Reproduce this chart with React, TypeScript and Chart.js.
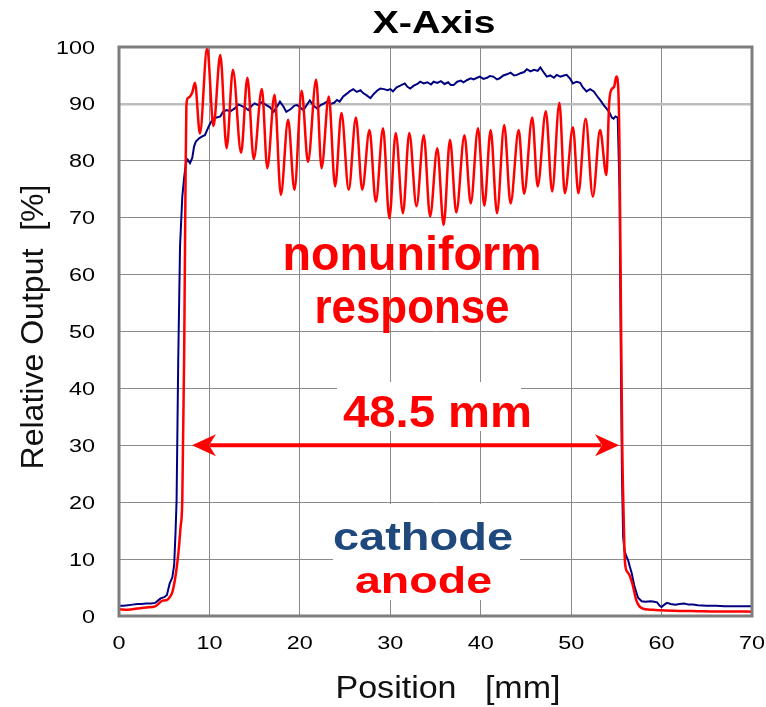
import React, { useEffect, useRef } from "react";
import { Chart, registerables } from "chart.js";

Chart.register(...registerables);

// ---------- data ----------
const xTicks = [0, 10, 20, 30, 40, 50, 60, 70];
const yTicks = [0, 10, 20, 30, 40, 50, 60, 70, 80, 90, 100];

const titleText = "X-Axis";
const xAxisTitle = "Position   [mm]";
const yAxisTitle = "Relative Output  [%]";
const seriesNames = ["anode", "cathode"];

// anode (red)
const redX = [0,1,2,3,4,4.4,4.8,5.3,5.6,5.9,6.2,6.4,6.6,6.8,7.0,7.2,7.35,7.45,7.6,7.85,8.1,8.4,8.95,9.75,10.45,11.2,11.9,12.6,13.5,14.2,14.9,15.8,16.4,17.2,17.9,18.7,19.4,20.2,20.9,21.8,22.4,23.2,23.9,24.6,25.4,26.2,26.9,27.7,28.4,29.2,29.9,30.6,31.4,32.1,32.9,33.7,34.4,35.2,35.9,36.6,37.3,38.2,38.9,39.7,40.4,41.1,41.8,42.6,43.3,44.2,44.8,45.7,46.3,47.2,47.9,48.7,49.3,50.2,50.8,51.6,52.4,53.2,53.9,54.2,54.45,54.75,55.0,55.2,55.35,55.5,55.65,55.8,55.95,56.2,56.5,56.8,57.2,57.6,58.2,59,60,62,64,66,68,70];
const redY = [1.2,1.1,1.3,1.5,1.7,2.2,2.7,2.8,3.3,4.2,6.5,8.7,11.6,15.5,20.5,45,75,89.5,91,91.3,92,93.7,84.8,99.9,86.1,98.6,82.2,96,81.4,94.6,80.3,92.6,78.7,91.6,74,87.2,74.9,92.3,79.8,94.3,78.7,91.3,75.5,88.4,74.9,87.6,74.9,85.4,72.8,85.7,69.9,84.9,70.8,84.9,72,84.5,70.2,82.2,68.7,83.7,70.9,84.5,72.5,85.7,72.1,85.4,70.8,86.3,72.5,85.4,74.2,87.6,75.5,88.7,74.6,90.2,74.3,85.9,74.3,87.4,73.7,85.4,77.5,90,92.5,93,94.8,93,82,55,30,18,9.5,7.8,7.0,5.5,2.8,1.6,1.2,1.1,1.0,0.9,0.85,0.8,0.8,0.75];

// cathode (blue)
const blueX = [0,0.5,1,1.5,2,2.5,3,3.5,4,4.3,4.6,5.0,5.3,5.6,5.9,6.1,6.25,6.37,6.55,6.75,7.0,7.2,7.4,7.6,7.85,8.1,8.3,8.5,8.9,9.2,9.5,9.8,10.0,10.4,10.8,11.2,11.5,11.9,12.3,12.8,13.2,13.6,14.0,14.3,14.7,15.0,15.4,15.8,16.3,16.7,17.1,17.5,17.8,18.2,18.5,19.0,19.4,19.7,20.0,20.4,20.8,21.1,21.5,21.9,22.3,22.7,23.0,23.4,23.8,24.1,24.4,24.8,25.2,25.5,25.9,26.3,26.7,27.0,27.4,27.8,28.2,28.6,28.9,29.3,29.7,30.0,30.3,30.7,31.1,31.6,31.9,32.2,32.6,33.0,33.3,33.7,34.1,34.5,34.8,35.2,35.6,36.0,36.4,36.7,37.0,37.4,37.8,38.1,38.5,38.9,39.2,39.6,39.9,40.3,40.7,41.0,41.4,41.8,42.1,42.5,42.9,43.3,43.7,44.0,44.4,44.8,45.1,45.5,45.9,46.3,46.6,46.9,47.3,47.7,48.1,48.4,48.8,49.2,49.5,49.9,50.2,50.6,51.0,51.3,51.7,52.1,52.5,52.9,53.2,53.6,53.9,54.2,54.5,54.7,54.9,55.15,55.35,55.5,55.62,55.75,55.9,56.1,56.3,56.5,56.7,57.0,57.4,57.8,58.2,58.8,59.2,59.5,59.8,60.0,60.3,60.6,61.0,61.5,62.0,62.5,63.0,63.5,64,65,66,67,68,69,70];
const blueY = [1.8,1.8,1.9,2.0,2.1,2.1,2.2,2.2,2.3,2.7,3.1,3.3,3.7,5.7,6.8,9.0,14.6,20.4,45,65,73.7,77,79.6,80.2,79.6,80.5,82.5,83.4,84.0,84.3,84.5,85.6,86.3,87.4,87.6,87.8,88.6,88.9,88.7,89.2,89.9,89.6,89.3,88.9,89.7,90.1,89.8,90.3,89.8,89.4,88.6,89.6,90.4,89.5,88.6,89.1,89.7,89.8,89.4,88.9,89.9,90.6,89.7,89.2,89.8,90.1,90.4,90.0,90.2,90.7,90.4,91.3,91.8,92.2,92.6,92.1,92.4,91.9,91.5,91.0,91.8,92.4,92.7,92.6,92.4,92.6,92.2,92.9,93.2,93.6,93.0,92.7,93.2,93.5,93.9,93.6,93.8,93.4,93.9,93.7,94.0,93.5,93.8,93.3,93.3,93.9,94.1,93.8,94.2,94.5,94.3,94.6,94.8,94.4,94.6,94.9,94.8,94.3,94.5,95.0,95.2,95.5,95.0,95.1,95.4,95.6,96.1,95.7,96.0,95.8,96.4,95.7,94.8,95.0,94.6,95.1,94.8,95.0,95.1,94.4,93.6,93.9,93.7,92.9,92.2,92.6,92.2,91.3,90.7,89.8,89.2,88.6,87.6,87.4,87.8,87.6,75,45,25,14,11.5,10.5,9.8,8.6,7.5,5.2,3.2,2.6,2.5,2.6,2.5,2.4,1.8,1.6,2.0,2.3,2.1,2.0,2.1,2.2,2.0,2.0,1.9,1.8,1.8,1.7,1.7,1.7,1.7];

// annotation (FWHM arrow) in data units
const arrowFrom = 8.07;
const arrowTo = 55.3;
const arrowAt = 30;
const widthLabel = "48.5 mm";
const noteLines = ["nonuniform", "response"];

const RED = "#ff0000";
const BLUE = "#000080";
const DARKBLUE = "#1f497d";
const FONT = "'Liberation Sans', Arial, Helvetica, sans-serif";

function fitText(
  ctx: CanvasRenderingContext2D,
  text: string,
  cx: number,
  baseline: number,
  font: string,
  color: string,
  width: number
) {
  ctx.save();
  ctx.font = font;
  const w = ctx.measureText(text).width;
  const s = width / w;
  ctx.translate(cx, baseline);
  ctx.scale(s, 1);
  ctx.textAlign = "center";
  ctx.textBaseline = "alphabetic";
  ctx.fillStyle = color;
  ctx.fillText(text, 0, 0);
  ctx.restore();
}

function arrowHead(ctx: CanvasRenderingContext2D, tipX: number, y: number, dir: number) {
  ctx.beginPath();
  ctx.moveTo(tipX, y);
  ctx.lineTo(tipX + dir * 24, y - 11);
  ctx.lineTo(tipX + dir * 17, y);
  ctx.lineTo(tipX + dir * 24, y + 11);
  ctx.closePath();
  ctx.fill();
}

const overlayPlugin = {
  id: "overlay",
  beforeDraw(chart: any) {
    const ctx = chart.ctx as CanvasRenderingContext2D;
    ctx.save();
    ctx.fillStyle = "#ffffff";
    ctx.fillRect(0, 0, chart.width, chart.height);
    ctx.restore();
  },
  afterDatasetsDraw(chart: any) {
    const ctx = chart.ctx as CanvasRenderingContext2D;
    const { left, right, top, bottom } = chart.chartArea;
    const xs = chart.scales.x;
    const ys = chart.scales.y;

    // frame
    ctx.save();
    ctx.strokeStyle = "#7d7d7d";
    ctx.lineWidth = 3;
    ctx.strokeRect(left, top, right - left, bottom - top);
    ctx.restore();

    // tick labels (slightly wide digits)
    ctx.save();
    ctx.fillStyle = "#000";
    ctx.font = `18px ${FONT}`;
    ctx.textBaseline = "alphabetic";
    ys.ticks.forEach((t: any) => {
      const py = ys.getPixelForValue(t.value);
      ctx.save();
      ctx.translate(95, py + 6.5);
      ctx.scale(1.3, 1);
      ctx.textAlign = "right";
      ctx.fillText(String(t.value), 0, 0);
      ctx.restore();
    });
    xs.ticks.forEach((t: any) => {
      const px = xs.getPixelForValue(t.value);
      ctx.save();
      ctx.translate(px, 649);
      ctx.scale(1.3, 1);
      ctx.textAlign = "center";
      ctx.fillText(String(t.value), 0, 0);
      ctx.restore();
    });
    ctx.restore();

    // titles
    fitText(ctx, titleText, 434, 33, `bold 32px ${FONT}`, "#000", 123);
    fitText(ctx, xAxisTitle, 448, 698, `32px ${FONT}`, "#111", 225);
    ctx.save();
    ctx.translate(43, 327);
    ctx.rotate(-Math.PI / 2);
    fitText(ctx, yAxisTitle, 0, 0, `32px ${FONT}`, "#111", 285);
    ctx.restore();

    // nonuniform response
    fitText(ctx, noteLines[0], 412, 270, `bold 48px ${FONT}`, RED, 259);
    fitText(ctx, noteLines[1], 412, 323, `bold 48px ${FONT}`, RED, 195);

    // width arrow
    const ay = ys.getPixelForValue(arrowAt);
    const ax1 = xs.getPixelForValue(arrowFrom);
    const ax2 = xs.getPixelForValue(arrowTo);
    ctx.save();
    ctx.strokeStyle = RED;
    ctx.fillStyle = RED;
    ctx.lineWidth = 4;
    ctx.beginPath();
    ctx.moveTo(ax1 + 18, ay);
    ctx.lineTo(ax2 - 18, ay);
    ctx.stroke();
    arrowHead(ctx, ax1, ay, 1);
    arrowHead(ctx, ax2, ay, -1);
    ctx.restore();

    // 48.5 mm label box
    ctx.save();
    ctx.fillStyle = "#ffffff";
    ctx.fillRect(337, 382, 184, 49);
    ctx.restore();
    fitText(ctx, widthLabel, 437.5, 427, `bold 45px ${FONT}`, RED, 189);

    // legend-like labels
    ctx.save();
    ctx.fillStyle = "#ffffff";
    ctx.fillRect(321, 504, 209, 53);
    ctx.fillRect(333, 557, 187, 43);
    ctx.restore();
    fitText(ctx, seriesNames[1], 423, 550, `bold 39px ${FONT}`, DARKBLUE, 180);
    fitText(ctx, seriesNames[0], 423.5, 593, `bold 37px ${FONT}`, RED, 137);
  },
};

export default function App() {
  const canvasRef = useRef<HTMLCanvasElement | null>(null);

  useEffect(() => {
    document.body.style.margin = "0";
    const canvas = canvasRef.current;
    if (!canvas) return;
    const chart = new Chart(canvas, {
      type: "line",
      data: {
        datasets: [
          {
            label: seriesNames[0],
            data: redX.map((x, i) => ({ x, y: redY[i] })),
            borderColor: RED,
            backgroundColor: RED,
            borderWidth: 2.5,
            pointRadius: 0,
            cubicInterpolationMode: "monotone",
            fill: false,
          },
          {
            label: seriesNames[1],
            data: blueX.map((x, i) => ({ x, y: blueY[i] })),
            borderColor: BLUE,
            backgroundColor: BLUE,
            borderWidth: 2,
            pointRadius: 0,
            tension: 0,
            fill: false,
          },
        ],
      },
      options: {
        responsive: false,
        animation: false,
        events: [],
        layout: { padding: { top: 47, right: 14, bottom: 0, left: 0 } },
        plugins: {
          legend: { display: false },
          title: { display: false },
          tooltip: { enabled: false },
        },
        scales: {
          x: {
            type: "linear",
            min: xTicks[0],
            max: xTicks[xTicks.length - 1],
            afterBuildTicks: (scale: any) => {
              scale.ticks = xTicks.map((v) => ({ value: v }));
            },
            afterFit: (scale: any) => {
              scale.height = 91;
            },
            ticks: { display: false },
            border: { display: false },
            grid: { color: "#8a8a8a", lineWidth: 1, drawTicks: false },
          },
          y: {
            type: "linear",
            min: yTicks[0],
            max: yTicks[yTicks.length - 1],
            afterBuildTicks: (scale: any) => {
              scale.ticks = yTicks.map((v) => ({ value: v }));
            },
            afterFit: (scale: any) => {
              scale.width = 119;
            },
            ticks: { display: false },
            border: { display: false },
            grid: {
              drawTicks: false,
              color: (c: any) => (c.tick && c.tick.value === 90 ? "#bdbdbd" : "#8a8a8a"),
              lineWidth: (c: any) => (c.tick && c.tick.value === 90 ? 2.5 : 1),
            },
          },
        },
      },
      plugins: [overlayPlugin],
    } as any);
    return () => chart.destroy();
  }, []);

  return (
    <div style={{ width: 766, height: 707 }}>
      <canvas ref={canvasRef} width={766} height={707} style={{ display: "block" }} />
    </div>
  );
}
